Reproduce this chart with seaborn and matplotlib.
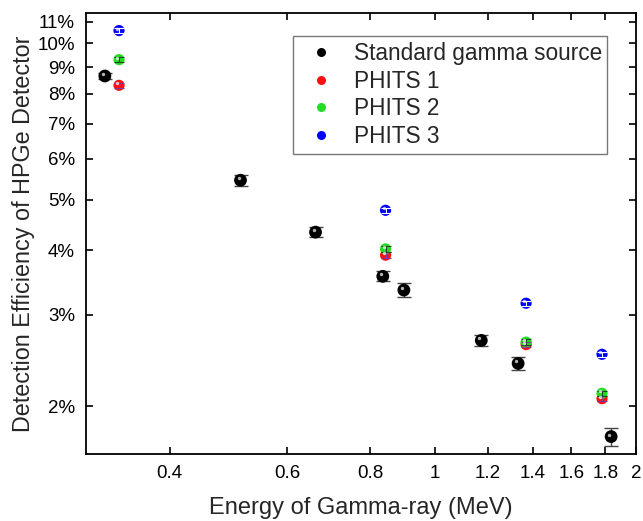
import numpy as np
import pandas as pd
import matplotlib
matplotlib.use('Agg')
import matplotlib.pyplot as plt
import matplotlib.transforms as mtransforms
from matplotlib.ticker import FixedLocator, FixedFormatter, NullLocator
import seaborn as sns

# measured efficiencies (%)
std_energy = [0.320, 0.511, 0.662, 0.835, 0.898, 1.173, 1.332, 1.836]
std_eff = [8.65, 5.45, 4.33, 3.56, 3.35, 2.68, 2.42, 1.75]
std_err = [0.12, 0.13, 0.10, 0.08, 0.10, 0.07, 0.07, 0.07]

# simulated efficiencies (%)
phits_energy = [0.336, 0.843, 1.369, 1.779]
phits1_eff = [8.30, 3.91, 2.63, 2.07]
phits2_eff = [9.30, 4.02, 2.66, 2.12]
phits3_eff = [10.58, 4.77, 3.16, 2.52]

xticks = [0.4, 0.6, 0.8, 1, 1.2, 1.4, 1.6, 1.8, 2]
xtick_labels = ['0.4', '0.6', '0.8', '1', '1.2', '1.4', '1.6', '1.8', '2']
yticks = [2, 3, 4, 5, 6, 7, 8, 9, 10, 11]
ytick_labels = [f'{v}%' for v in yticks]

sns.set_style('ticks')
plt.rcParams['font.family'] = ['Liberation Sans', 'DejaVu Sans']

rows = []
for e, v in zip(std_energy, std_eff):
    rows.append({'energy': e, 'eff': v, 'series': 'Standard gamma source'})
for name, vals in [('PHITS 1', phits1_eff), ('PHITS 2', phits2_eff), ('PHITS 3', phits3_eff)]:
    for e, v in zip(phits_energy, vals):
        rows.append({'energy': e, 'eff': v, 'series': name})
df = pd.DataFrame(rows)

palette = {'Standard gamma source': '#000000', 'PHITS 1': '#ff1010',
           'PHITS 2': '#22dd22', 'PHITS 3': '#0000ff'}
cross_col = {'PHITS 1': '#7a3aa0', 'PHITS 2': '#224422', 'PHITS 3': '#ffffff'}
sizes = {'Standard gamma source': 85, 'PHITS 1': 65, 'PHITS 2': 65, 'PHITS 3': 65}

fig = plt.figure(figsize=(6.43, 5.21), dpi=100)
ax = fig.add_axes([0.134, 0.1286, 0.855, 0.847])

# error bars for the measured points
ax.errorbar(std_energy, std_eff, yerr=std_err, fmt='none', ecolor='#444444',
            elinewidth=1.0, capsize=5, capthick=1.0, zorder=2)

sns.scatterplot(data=df, x='energy', y='eff', hue='series', palette=palette,
                size='series', sizes=sizes, edgecolor='none', linewidth=0,
                ax=ax, zorder=3, legend=True)

# small error crosses on simulation markers
for name, vals in [('PHITS 1', phits1_eff), ('PHITS 2', phits2_eff), ('PHITS 3', phits3_eff)]:
    ax.errorbar(phits_energy, vals, yerr=[v * 0.012 for v in vals], fmt='none',
                ecolor=cross_col[name], elinewidth=0.8, capsize=3.5, capthick=0.8, zorder=4)

# sphere-like highlight
hl = mtransforms.offset_copy(ax.transData, fig=fig, x=-1.4, y=1.4, units='points')
ax.scatter(df['energy'], df['eff'], s=6, color='white', alpha=0.7, transform=hl,
           zorder=5, linewidths=0)

ax.set_xscale('log')
ax.set_yscale('log')
ax.set_xlim(0.3, 2.0)
ax.set_ylim(1.62, 11.45)
ax.xaxis.set_major_locator(FixedLocator(xticks))
ax.xaxis.set_major_formatter(FixedFormatter(xtick_labels))
ax.xaxis.set_minor_locator(NullLocator())
ax.yaxis.set_major_locator(FixedLocator(yticks))
ax.yaxis.set_major_formatter(FixedFormatter(ytick_labels))
ax.yaxis.set_minor_locator(NullLocator())
ax.tick_params(direction='in', top=True, right=True, length=5, width=1.2,
               labelsize=13.5, pad=8, colors='black')
for sp in ax.spines.values():
    sp.set_linewidth(1.3)
    sp.set_color('black')

ax.set_xlabel('Energy of Gamma-ray (MeV)', fontsize=17, labelpad=11)
ax.set_ylabel('Detection Efficiency of HPGe Detector', fontsize=16.8, labelpad=2)

handles, labels = ax.get_legend_handles_labels()
for h in handles:
    h.set_markersize(6.5)
leg = ax.legend(handles, labels, loc='upper left', bbox_to_anchor=(0.376, 0.947),
                fontsize=16.3, frameon=True, fancybox=False, edgecolor='#555555',
                handlelength=2.0, handletextpad=0.43, borderpad=0.25,
                labelspacing=0.21, borderaxespad=0)
leg.get_frame().set_linewidth(1.0)

fig.savefig('out.png', dpi=100)
